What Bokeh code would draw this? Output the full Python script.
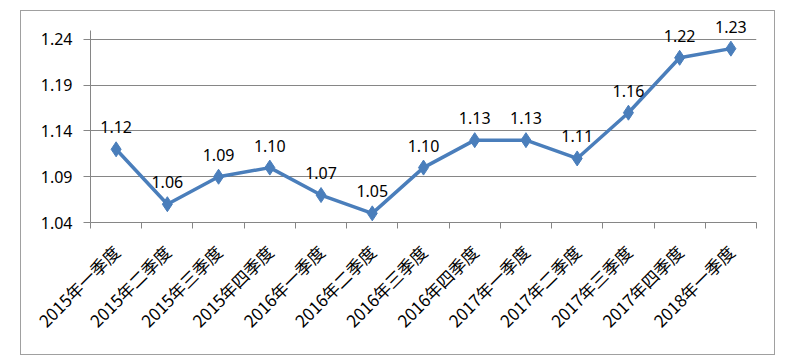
from bokeh.plotting import figure
from bokeh.models import FixedTicker, Range1d, ColumnDataSource, LabelSet, PrintfTickFormatter
from bokeh.embed import file_html
from bokeh.resources import INLINE
from bokeh.core.properties import value
import math

quarters = ["2015年一季度", "2015年二季度", "2015年三季度", "2015年四季度",
            "2016年一季度", "2016年二季度", "2016年三季度", "2016年四季度",
            "2017年一季度", "2017年二季度", "2017年三季度", "2017年四季度",
            "2018年一季度"]
values = [1.12, 1.06, 1.09, 1.10, 1.07, 1.05, 1.10, 1.13, 1.13, 1.11, 1.16, 1.22, 1.23]
y_ticks = [1.04, 1.09, 1.14, 1.19, 1.24]
y_axis_bounds = (1.04, 1.25)

n = len(quarters)
xs = [i + 0.5 for i in range(n)]
src = ColumnDataSource(dict(x=xs, y=values, lab=["%.2f" % v for v in values]))

p = figure(width=755, height=345, output_backend="svg", toolbar_location=None,
           x_range=Range1d(0, n), y_range=Range1d(1.04, 1.2695),
           min_border_left=69, min_border_right=20, min_border_top=1, min_border_bottom=134,
           outline_line_color=None)
p.styles = {"border": "1px solid #a0a0a0", "margin-left": "20px", "margin-top": "10px"}

line_color = "#4A7EBB"
p.line("x", "y", source=src, line_color=line_color, line_width=3.5)
p.scatter("x", "y", source=src, marker="diamond", size=15, fill_color=line_color, line_color=line_color)

labels = LabelSet(x="x", y="y", text="lab", source=src, text_align="center", text_baseline="bottom",
                  y_offset=16, text_font=value("Noto Sans"), text_font_size="16px", text_color="#000000")
p.add_layout(labels)

# x axis
p.xaxis.ticker = FixedTicker(ticks=xs, minor_ticks=list(range(n + 1)))
p.xaxis.major_label_overrides = {x: q for x, q in zip(xs, quarters)}
p.xaxis.major_tick_line_color = None
p.xaxis.minor_tick_line_color = "#868686"
p.xaxis.minor_tick_out = 6
p.xaxis.minor_tick_in = 0
p.xaxis.axis_line_color = "#868686"
p.xaxis.major_label_orientation = math.pi / 4
p.xaxis.major_label_text_font = "Noto Sans CJK SC"
p.xaxis.major_label_text_font_size = "17px"
p.xaxis.major_label_text_color = "#000000"
p.xaxis.major_label_standoff = 20

# y axis
p.yaxis.ticker = FixedTicker(ticks=y_ticks)
p.yaxis.bounds = y_axis_bounds
p.yaxis.formatter = PrintfTickFormatter(format="%.2f")
p.yaxis.major_tick_line_color = "#868686"
p.yaxis.major_tick_out = 7
p.yaxis.major_tick_in = 0
p.yaxis.minor_tick_line_color = None
p.yaxis.axis_line_color = "#868686"
p.yaxis.major_label_text_font = "Noto Sans"
p.yaxis.major_label_text_font_size = "16px"
p.yaxis.major_label_text_color = "#000000"
p.yaxis.major_label_standoff = 11

p.xgrid.grid_line_color = None
p.ygrid.ticker = FixedTicker(ticks=y_ticks)
p.ygrid.grid_line_color = "#868686"
p.ygrid.grid_line_width = 1

open("out.html", "w").write(file_html(p, INLINE))
